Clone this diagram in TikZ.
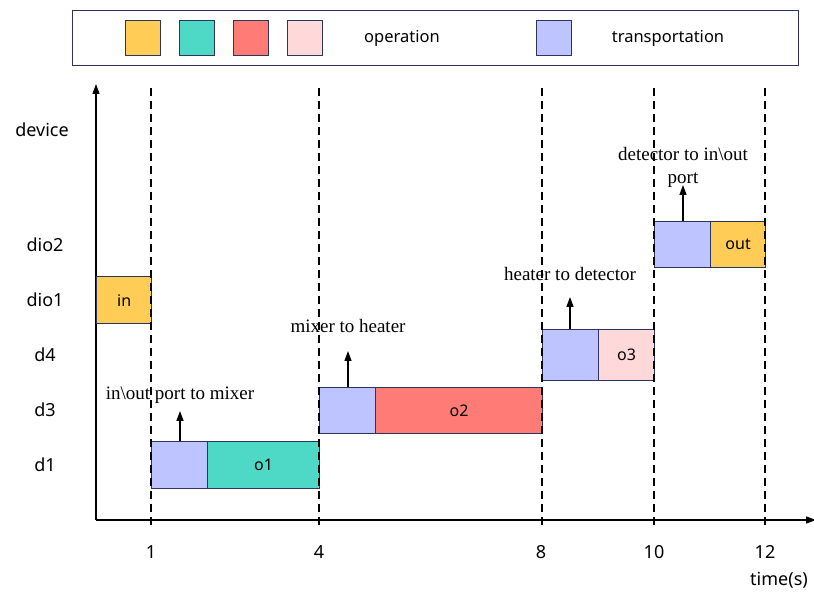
\documentclass[tikz,border=0pt]{standalone}
\usepackage{fontspec}
\setmainfont{Liberation Serif}
\newfontfamily\lblfont{Noto Sans}
\usetikzlibrary{arrows.meta}
\definecolor{cyel}{HTML}{FFCC55}
\definecolor{cteal}{HTML}{4ED8C6}
\definecolor{cred}{HTML}{FF7B76}
\definecolor{cpink}{HTML}{FFD9D9}
\definecolor{cblue}{HTML}{BDC4FF}
\definecolor{cedge}{HTML}{2E3460}
\begin{document}
\begin{tikzpicture}[x=1pt,y=-1pt,
  box/.style={draw=cedge, line width=1.3pt, anchor=north west, inner sep=0pt, font=\lblfont\fontsize{16}{16}\selectfont},
  leg/.style={box, minimum width=35pt, minimum height=35pt},
  axis/.style={line width=1.4pt, -{Triangle[length=10pt,width=7pt]}},
  grid/.style={line width=1.1pt, dash pattern=on 8pt off 5pt},
  arr/.style={line width=1.3pt, -{Triangle[length=10pt,width=7pt]}},
  ylab/.style={font=\lblfont\fontsize{18}{18}\selectfont, anchor=center},
  xlab/.style={font=\lblfont\fontsize{18}{18}\selectfont, anchor=center},
  note/.style={font=\fontsize{19}{23}\selectfont, align=center, inner sep=0pt}]
\useasboundingbox (0,0) rectangle (814,593);
% legend
\node[draw=cedge, line width=1.4pt, minimum width=726pt, minimum height=55pt, anchor=north west, inner sep=0pt] (legend) at (72,10) {};
\node[leg, fill=cyel] (lg1) at (125,20) {};
\node[leg, fill=cteal] (lg2) at (179,20) {};
\node[leg, fill=cred] (lg3) at (233,20) {};
\node[leg, fill=cpink] (lg4) at (287,20) {};
\node[leg, fill=cblue] (lg5) at (536,20) {};
\node[font=\lblfont\fontsize{16.5}{16.5}\selectfont] (lgop) at (402,38) {operation};
\node[font=\lblfont\fontsize{16.5}{16.5}\selectfont] (lgtr) at (668,38) {transportation};
% axes
\coordinate (origin) at (96,520);
\coordinate (ytop) at (96,84);
\coordinate (xend) at (816,520);
\draw[axis] (origin) -- (ytop);
\draw[axis] (origin) -- (xend);
% boxes
\node[box, fill=cyel, minimum width=55pt, minimum height=47pt] (in) at (96,276) {in};
\node[box, fill=cblue, minimum width=56pt, minimum height=47pt] (t1) at (151,441) {};
\node[box, fill=cteal, minimum width=112pt, minimum height=47pt] (o1) at (207,441) {o1};
\node[box, fill=cblue, minimum width=56pt, minimum height=46pt] (t2) at (319,387) {};
\node[box, fill=cred, minimum width=167pt, minimum height=46pt] (o2) at (375,387) {o2};
\node[box, fill=cblue, minimum width=56pt, minimum height=51pt] (t3) at (542,329) {};
\node[box, fill=cpink, minimum width=56pt, minimum height=51pt] (o3) at (598,329) {o3};
\node[box, fill=cblue, minimum width=56pt, minimum height=46pt] (t4) at (654,221) {};
\node[box, fill=cyel, minimum width=55pt, minimum height=46pt] (out) at (710,221) {out};
% dashed time lines
\foreach \n/\x in {a/151,b/319,c/542,d/654,e/765}{
  \coordinate (g\n top) at (\x,88);
  \coordinate (g\n bot) at (\x,526);
  \draw[grid] (g\n top) -- (g\n bot);
}
% axis labels
\node[ylab] (ldev) at (42,130) {device};
\node[ylab] (ldio2) at (45,245) {dio2};
\node[ylab] (ldio1) at (45,300) {dio1};
\node[ylab] (ld4) at (45,355) {d4};
\node[ylab] (ld3) at (45,410) {d3};
\node[ylab] (ld1) at (45,465) {d1};
\node[xlab] (x1) at (151,552) {1};
\node[xlab] (x4) at (319,552) {4};
\node[xlab] (x8) at (541,552) {8};
\node[xlab] (x10) at (654,552) {10};
\node[xlab] (x12) at (765,552) {12};
\node[xlab] (xt) at (779,580) {time(s)};
% transport notes
\node[note] (n1) at (180,395) {in\textbackslash out port to mixer};
\node[note] (n2) at (348,326) {mixer to heater};
\node[note] (n3) at (570,274) {heater to detector};
\node[note] (n4) at (683,167) {detector to in\textbackslash out\\port};
\coordinate (a1) at (180,411);
\coordinate (a2) at (348,351);
\coordinate (a3) at (570,297);
\coordinate (a4) at (683,185);
\draw[arr] (t1.north -| a1) -- (a1);
\draw[arr] (t2.north -| a2) -- (a2);
\draw[arr] (t3.north -| a3) -- (a3);
\draw[arr] (t4.north -| a4) -- (a4);
\end{tikzpicture}
\end{document}
